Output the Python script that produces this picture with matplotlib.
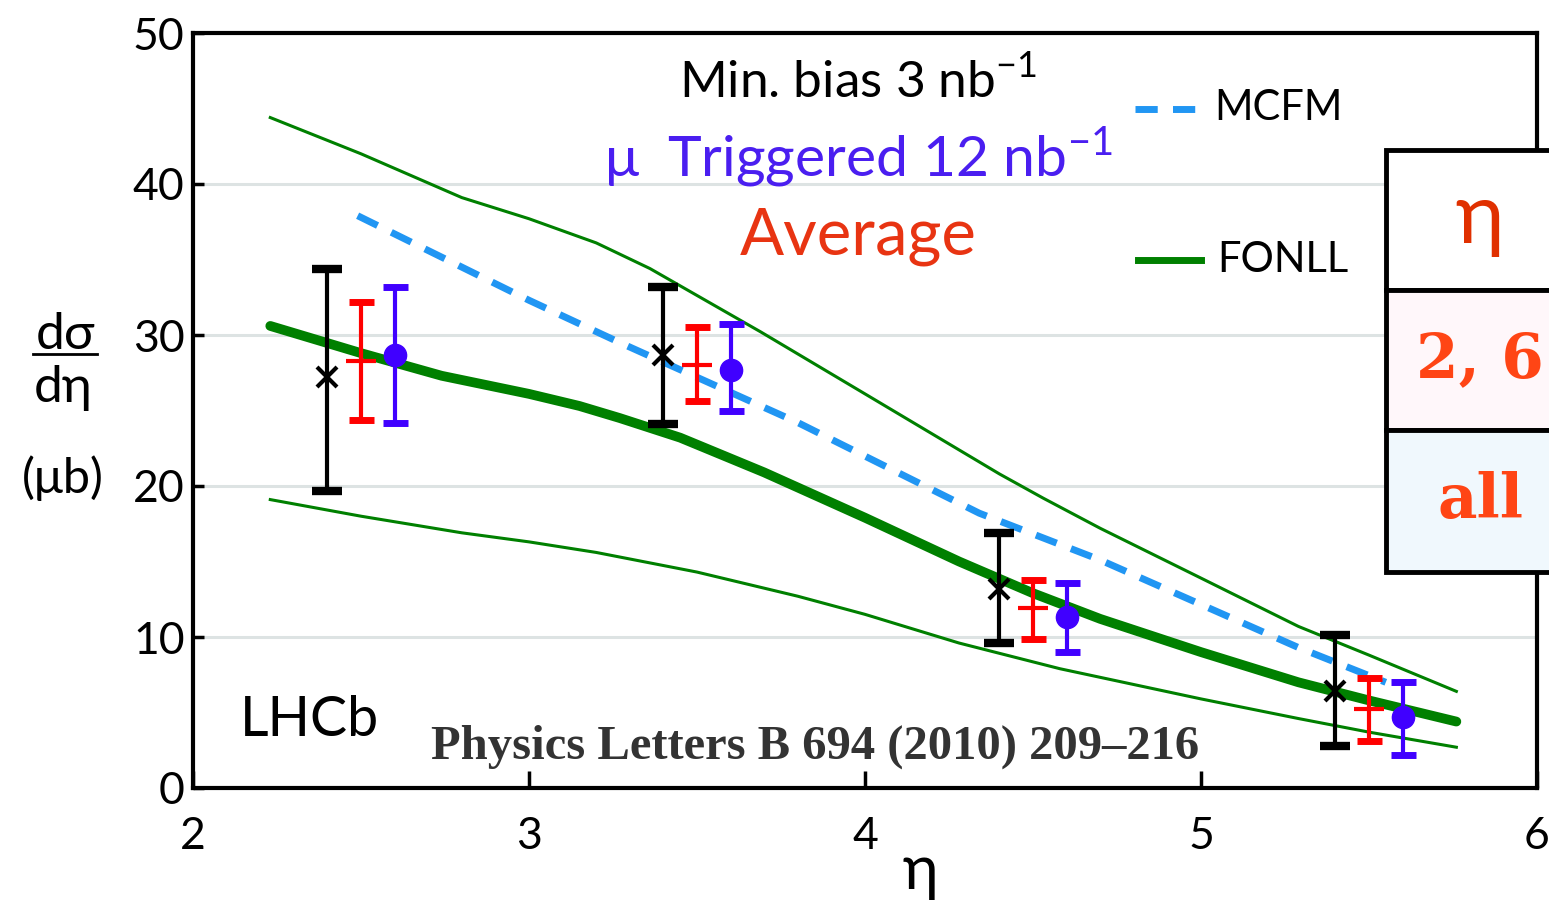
import matplotlib
matplotlib.use("Agg")
import matplotlib.pyplot as plt
from matplotlib.patches import Rectangle
from matplotlib.lines import Line2D

plt.rcParams['font.family'] = ['Lato', 'DejaVu Sans']
plt.rcParams['mathtext.fontset'] = 'custom'
plt.rcParams['mathtext.rm'] = 'Lato'

# measured points: min bias, average, mu-triggered
eta_minbias = [2.4, 3.4, 4.4, 5.4]
val_minbias = [27.2, 28.7, 13.2, 6.4]
lo_minbias = [19.7, 24.1, 9.6, 2.8]
hi_minbias = [34.4, 33.2, 16.9, 10.1]

eta_avg = [2.5, 3.5, 4.5, 5.5]
val_avg = [28.3, 28.0, 11.9, 5.2]
lo_avg = [24.4, 25.6, 9.9, 3.1]
hi_avg = [32.2, 30.5, 13.8, 7.3]

eta_trig = [2.6, 3.6, 4.6, 5.6]
val_trig = [28.7, 27.7, 11.3, 4.7]
lo_trig = [24.2, 25.0, 9.0, 2.2]
hi_trig = [33.2, 30.7, 13.6, 7.0]

# theory curves
eta_fonll = [2.23, 2.5, 2.74, 3.0, 3.15, 3.27, 3.45, 3.7, 4.0, 4.28, 4.5, 4.7, 5.0, 5.29, 5.5, 5.76]
fonll_mid = [30.6, 28.8, 27.3, 26.1, 25.3, 24.5, 23.2, 20.9, 17.9, 15.0, 12.9, 11.2, 9.0, 7.0, 5.8, 4.4]

eta_fonll_hi = [2.23, 2.5, 2.8, 3.0, 3.2, 3.36, 3.69, 4.0, 4.4, 4.53, 4.7, 5.0, 5.29, 5.5, 5.76]
fonll_hi = [44.4, 42.0, 39.1, 37.7, 36.1, 34.4, 30.2, 26.1, 20.8, 19.2, 17.2, 13.9, 10.7, 8.8, 6.4]

eta_fonll_lo = [2.23, 2.5, 2.8, 3.0, 3.2, 3.5, 3.8, 4.0, 4.28, 4.58, 5.0, 5.29, 5.5, 5.76]
fonll_lo = [19.1, 18.0, 16.9, 16.3, 15.6, 14.3, 12.7, 11.5, 9.6, 7.9, 5.9, 4.6, 3.7, 2.7]

eta_mcfm = [2.49, 3.0, 3.27, 3.8, 4.34, 4.7, 5.29, 5.55]
mcfm = [37.9, 32.3, 29.5, 24.2, 18.2, 15.1, 9.3, 7.0]

green = '#008000'
blue_pts = '#4000ff'
red_pts = '#ff0000'
mcfm_col = '#2196f3'

fig = plt.figure(figsize=(15.49, 9.01), dpi=100)
ax = fig.add_axes([193/1549, 113/901, 1344/1549, 755/901])

ax.set_xlim(2, 6)
ax.set_ylim(0, 50)
for g in [10, 20, 30, 40]:
    ax.axhline(g, color='#dde3e3', lw=2.2, zorder=0)

ax.plot(eta_fonll_hi, fonll_hi, color=green, lw=2.2, zorder=2)
ax.plot(eta_fonll_lo, fonll_lo, color=green, lw=2.2, zorder=2)
ax.plot(eta_fonll, fonll_mid, color=green, lw=7, zorder=2, solid_capstyle='round')
ax.plot(eta_mcfm, mcfm, color=mcfm_col, lw=5, ls=(0, (3.2, 2.2)), zorder=3)


def draw_points(eta, val, lo, hi, color, marker, ms, capw, capt):
    err = [[v - l for v, l in zip(val, lo)], [h - v for v, h in zip(val, hi)]]
    ax.errorbar(eta, val, yerr=err, fmt='none', ecolor=color, elinewidth=3,
                capsize=capw, capthick=capt, zorder=4)
    ax.plot(eta, val, ls='none', marker=marker, color=color, ms=ms,
            mew=3 if marker in ('x', '_') else 1, zorder=5)


draw_points(eta_minbias, val_minbias, lo_minbias, hi_minbias, 'black', 'x', 14, 11, 6)
draw_points(eta_avg, val_avg, lo_avg, hi_avg, red_pts, '_', 22, 9, 5)
draw_points(eta_trig, val_trig, lo_trig, hi_trig, blue_pts, 'o', 16, 9, 5)

for s in ax.spines.values():
    s.set_linewidth(3)
ax.set_xticks([2, 3, 4, 5, 6])
ax.set_yticks([0, 10, 20, 30, 40, 50])
ax.tick_params(axis='x', direction='in', length=12, width=2.5, pad=20, labelsize=32)
ax.tick_params(axis='y', direction='in', length=8, width=2.5, pad=6, labelsize=32)

# annotations
ax.text(0.495, 0.935, 'Min. bias 3 nb$^{-1}$', transform=ax.transAxes, ha='center',
        va='center', fontsize=37, color='black')
ax.text(0.495, 0.835, 'μ  Triggered 12 nb$^{-1}$', transform=ax.transAxes, ha='center',
        va='center', fontsize=41, color='#4a1ef0')
ax.text(0.495, 0.73, 'Average', transform=ax.transAxes, ha='center', va='center',
        fontsize=47, color='#e83412')
ax.text(0.087, 0.09, 'LHCb', transform=ax.transAxes, ha='center', va='center',
        fontsize=40, color='black')
ax.text(0.4625, 0.055, 'Physics Letters B 694 (2010) 209–216', transform=ax.transAxes,
        ha='center', va='center', fontsize=35, color='#333333', fontweight='bold',
        family=['Liberation Serif', 'DejaVu Serif'])

# legend entries
ax.add_line(Line2D([0.701, 0.75], [0.9, 0.9], transform=ax.transAxes, color=mcfm_col,
                   lw=5, ls=(0, (3.2, 2.2))))
ax.text(0.76, 0.9, 'MCFM', transform=ax.transAxes, va='center', fontsize=30)
ax.add_line(Line2D([0.703, 0.75], [0.70, 0.70], transform=ax.transAxes, color=green, lw=5))
ax.text(0.762, 0.70, 'FONLL', transform=ax.transAxes, va='center', fontsize=30)

# y label as a fraction
fig.text(65/1549, 1 - 335/901, 'dσ', ha='center', va='center', fontsize=37)
fig.add_artist(Line2D([33/1549, 97/1549], [1 - 354/901, 1 - 354/901], color='black', lw=2))
fig.text(63/1549, 1 - 388/901, 'dη', ha='center', va='center', fontsize=37)
fig.text(63/1549, 1 - 478/901, '(μb)', ha='center', va='center', fontsize=35)
fig.text(920/1549, 1 - 872/901, 'η', ha='center', va='center', fontsize=44)

# table at the right edge
rows_top = [150, 290, 430]
rows_bottom = [290, 430, 572]
row_fill = ['white', '#fff7fa', '#f0f8fd']
row_text = ['η', '2, 6', 'all']
row_color = ['#e03000', '#ff4515', '#ff4515']
for t, b, fc, txt, tc in zip(rows_top, rows_bottom, row_fill, row_text, row_color):
    fig.add_artist(Rectangle((1386/1549, 1 - b/901), 300/1549, (b - t)/901,
                             transform=fig.transFigure, facecolor=fc, edgecolor='black',
                             lw=3.5, zorder=10))
    if txt == 'η':
        fig.text(1480/1549, 1 - (t + b)/2/901, txt, ha='center', va='center',
                 fontsize=60, color=tc, zorder=11)
    else:
        fig.text(1480/1549, 1 - (t + b)/2/901, txt, ha='center', va='center',
                 fontsize=44, color=tc, fontweight='bold', family='DejaVu Serif', zorder=11)

fig.savefig('out.png', dpi=100)
